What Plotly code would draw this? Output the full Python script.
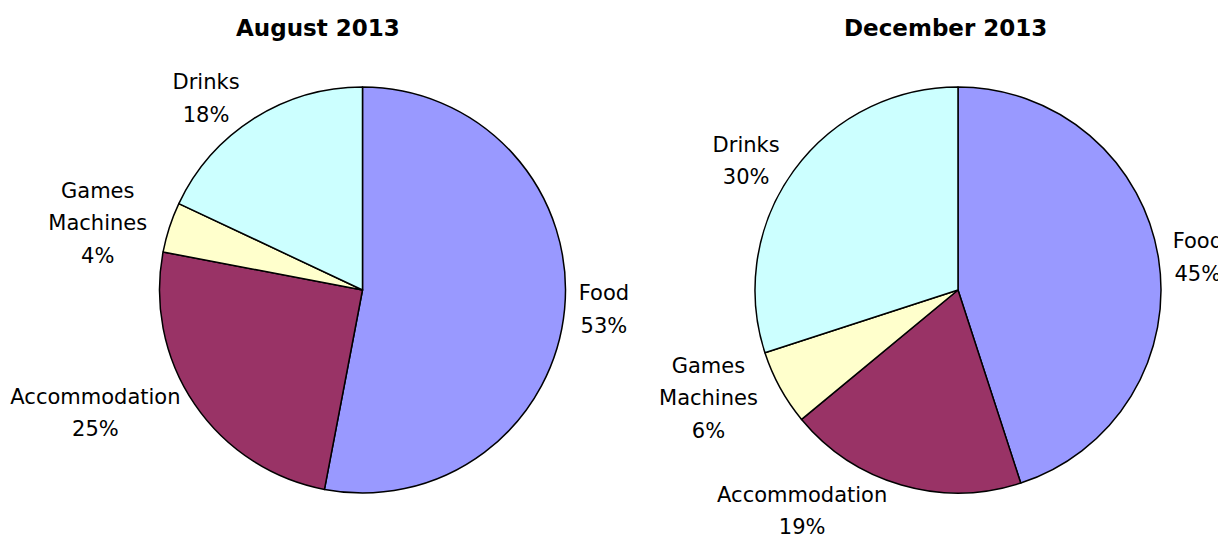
import plotly.graph_objects as go

categories = ["Food", "Accommodation", "Games Machines", "Drinks"]
label_lines = [["Food"], ["Accommodation"], ["Games", "Machines"], ["Drinks"]]
august_values = [53, 25, 4, 18]
december_values = [45, 19, 6, 30]
titles = ["August 2013", "December 2013"]
colors = ["#9999FF", "#993366", "#FFFFCC", "#CCFFFF"]

# page body has an 8px margin, so the figure is drawn 8px in from the corner
OFF = 8
W, H = 1226 - OFF, 556 - OFF
R = 203
centers = [(362.5 - OFF, 290 - OFF), (958 - OFF, 290 - OFF)]
title_x = [318 - OFF, 945 - OFF]
title_y = 28 - OFF

GLYPH = 21  # visible label size
LINE = 25   # sets the line spacing of the labels


def dom(cx, cy, r):
    return dict(x=[(cx - r) / W, (cx + r) / W], y=[(H - cy - r) / H, (H - cy + r) / H])


def span(s):
    return "<span style='font-size:%dpx'>%s</span>" % (GLYPH, s)


def slice_texts(vals):
    return ["<br>".join(span(l) for l in lines + ["%d%%" % v])
            for lines, v in zip(label_lines, vals)]


fig = go.Figure()
for vals, (cx, cy) in zip([august_values, december_values], centers):
    fig.add_trace(go.Pie(
        labels=categories,
        values=vals,
        text=slice_texts(vals),
        texttemplate="%{text}",
        textposition="outside",
        textfont=dict(family="DejaVu Sans", size=LINE, color="black"),
        marker=dict(colors=colors, line=dict(color="black", width=1.5)),
        sort=False,
        direction="clockwise",
        rotation=0,
        showlegend=False,
        hoverinfo="label+percent",
        domain=dom(cx, cy, R),
        automargin=False,
    ))

for i, t in enumerate(titles):
    fig.add_annotation(
        text="<b>%s</b>" % t, x=title_x[i] / W, y=1 - title_y / H, xref="paper", yref="paper",
        yanchor="middle", xanchor="center", showarrow=False,
        font=dict(family="DejaVu Sans", size=23, color="black"),
    )

fig.update_layout(
    width=W, height=H,
    margin=dict(l=0, r=0, t=0, b=0),
    paper_bgcolor="white", plot_bgcolor="white",
)
fig.write_html("out.html")
